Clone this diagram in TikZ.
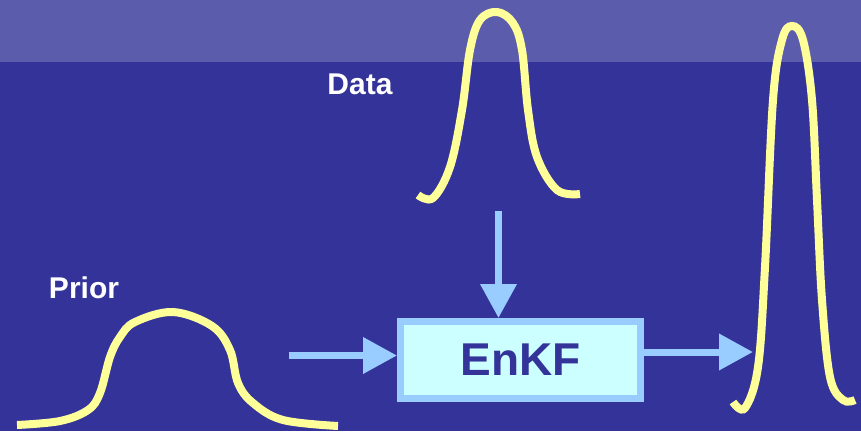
\documentclass[tikz,border=0pt]{standalone}
\usepackage{fontspec}
\setmainfont{Liberation Sans}
\usetikzlibrary{arrows.meta}
\definecolor{bgblue}{HTML}{333399}
\definecolor{bandblue}{HTML}{5C5CAD}
\definecolor{pdfyellow}{HTML}{FFFF99}
\definecolor{flowblue}{HTML}{99CCFF}
\definecolor{boxfill}{HTML}{CCFFFF}
\begin{document}
\begin{tikzpicture}[x=1pt,y=-1pt,
	curve/.style={pdfyellow,line width=8pt},
	flow/.style={flowblue,line width=7pt,-{Triangle[length=34pt,width=35pt]}},
	label/.style={white,font=\fontsize{30}{34}\selectfont\bfseries,inner sep=0pt,anchor=base}]
	\useasboundingbox (0,0) rectangle (861,431);
	\fill[bgblue] (0,0) rectangle (861,431);
	\fill[bandblue] (0,0) rectangle (861,62);
	% filter box
	\node[draw=flowblue,fill=boxfill,line width=7pt,minimum width=240pt,minimum height=77pt,
		inner sep=0pt,text=bgblue,font=\fontsize{46}{50}\selectfont\bfseries] (enkf) at (520.5,360) {EnKF};
	\node[label] (data) at (360,94) {Data};
	\node[label] (prior) at (84,298) {Prior};
	% prior, data and posterior curves
	\draw[curve] plot[smooth,tension=0.6] coordinates {(17,425) (60,421) (88,410) (100,393) (110,357) (120,337)
		(135,322) (173,312) (212,326) (230,350) (238,383) (253,403) (283,420) (338,426)};
	\draw[curve] plot[smooth,tension=0.6] coordinates {(418,195) (433,198) (450,167) (462,110) (470,50) (480,20)
		(497,12) (513,23) (522,50) (528,110) (537,157) (557,190) (580,194)};
	\draw[curve] plot[smooth,tension=0.6] coordinates {(733,402) (745,408) (758,367) (765,267) (773,100) (782,40)
		(792,26) (803,40) (812,100) (817,200) (822,300) (830,377) (843,400) (855,400)};
	% arrows into and out of the filter
	\coordinate (prior-out) at (289,355.5);
	\coordinate (data-out) at (498.5,211);
	\coordinate (post-in) at (753,352);
	\draw[flow] (prior-out) -- (prior-out -| enkf.west);
	\draw[flow] (data-out) -- (data-out |- enkf.north);
	\draw[flow] (post-in -| enkf.east) -- (post-in);
\end{tikzpicture}
\end{document}
